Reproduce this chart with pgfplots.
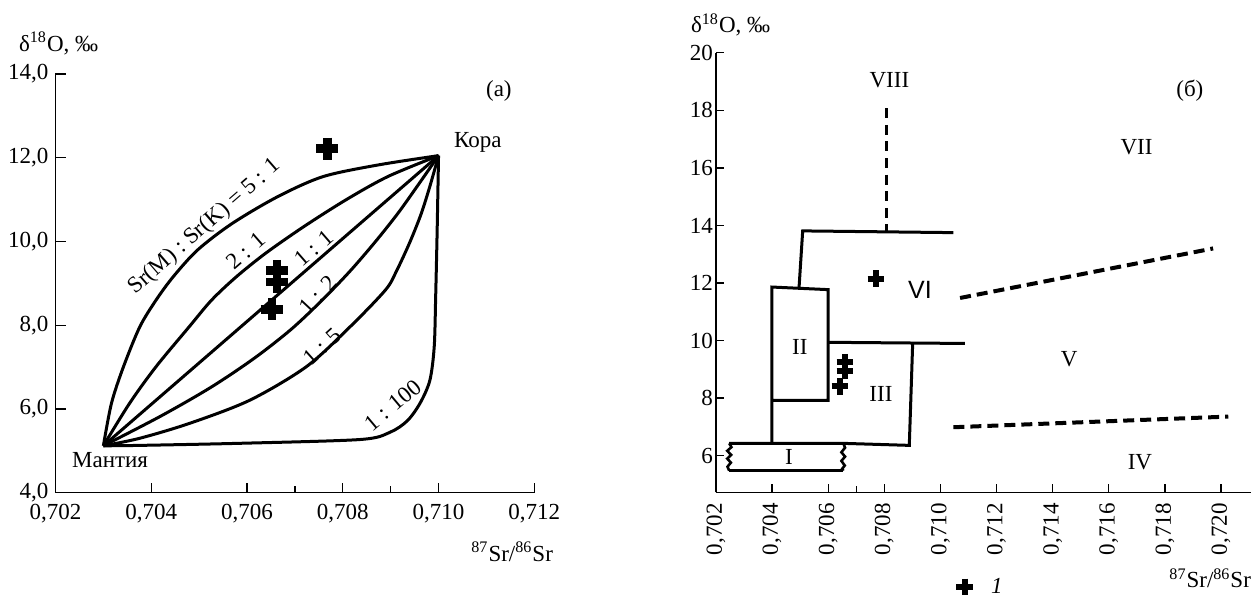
\documentclass[border=0pt]{standalone}
\usepackage{pgfplots}
\pgfplotsset{compat=1.18}
\usepackage{fontspec}
\setmainfont{Liberation Serif}
\newfontfamily\sansf{Liberation Sans}

\begin{document}
\begin{tikzpicture}[font=\fontsize{11.5}{13}\selectfont]
\path[use as bounding box] (0,0) rectangle (629.5pt,300pt);

\pgfplotsset{
  mixing/.style={black, line width=1.5pt, smooth, no markers},
  field/.style={black, line width=1.5pt, no markers},
  bound/.style={black, line width=2pt, no markers, dash pattern=on 5.5pt off 3pt},
}

% (a) mixing curves mantle - crust
\begin{axis}[
  at={(27.75pt,53.65pt)}, anchor=south west,
  scale only axis, width=239.4pt, height=209.35pt,
  xmin=0.702, xmax=0.712, ymin=4, ymax=14,
  axis lines=left, axis line style={-, line width=0.7pt},
  tick align=inside, major tick length=5pt, minor tick length=3.5pt,
  tick style={black, line width=0.7pt},
  scaled x ticks=false,
  xtick={0.702,0.704,0.706,0.708,0.710,0.712},
  xticklabels={{0,702},{0,704},{0,706},{0,708},{0,710},{0,712}},
  minor xtick={0.707,0.709},
  ytick={4,6,8,10,12,14},
  yticklabels={{4,0},{6,0},{8,0},{10,0},{12,0},{14,0}},
  xticklabel style={yshift=-2pt},
  clip=false,
]
  % Sr(M):Sr(K) = 5:1
  \addplot[mixing] coordinates {(0.70300,5.12) (0.70317,6.14) (0.70342,7.01)
    (0.70376,7.96) (0.70410,8.60) (0.70446,9.16) (0.70497,9.80) (0.70569,10.43)
    (0.70664,11.07) (0.70759,11.55) (0.70875,11.83) (0.71000,12.05)};
  % 2:1
  \addplot[mixing] coordinates {(0.70300,5.12) (0.70355,6.14) (0.70410,7.01)
    (0.70479,7.96) (0.70526,8.60) (0.70578,9.16) (0.70639,9.72) (0.70718,10.35)
    (0.70806,10.99) (0.70894,11.55) (0.71000,12.05)};
  % 1:1
  \addplot[field] coordinates {(0.70300,5.12) (0.71000,12.05)};
  % 1:2
  \addplot[mixing] coordinates {(0.70300,5.12) (0.70420,5.83) (0.70525,6.52)
    (0.70615,7.21) (0.70692,7.90) (0.70757,8.60) (0.70815,9.29) (0.70867,9.98)
    (0.70915,10.67) (0.70958,11.36) (0.71000,12.05)};
  % 1:5
  \addplot[mixing] coordinates {(0.70300,5.12) (0.70376,5.30) (0.70481,5.66)
    (0.70606,6.21) (0.70724,7.01) (0.70815,7.96) (0.70889,8.84) (0.70912,9.29)
    (0.70940,9.98) (0.70964,10.67) (0.70983,11.36) (0.71000,12.05)};
  % 1:100
  \addplot[mixing] coordinates {(0.70300,5.12) (0.70376,5.13) (0.70586,5.18)
    (0.70836,5.27) (0.70898,5.44) (0.70935,5.72) (0.70962,6.15) (0.70982,6.69)
    (0.70991,7.49) (0.70994,8.68) (0.70997,10.20) (0.71000,12.05)};
  % samples
  \addplot[only marks, mark=+, mark size=5.5pt, mark options={line width=4.3pt}]
    coordinates {(0.70768,12.22) (0.70663,9.30) (0.70663,9.03) (0.70652,8.38)};

  \node[rotate=41] at (axis cs:0.70512,10.35) {Sr(M) : Sr(K) = 5 : 1};
  \node[rotate=41] at (axis cs:0.70598,9.78) {2 : 1};
  \node[rotate=41] at (axis cs:0.70740,9.84) {1 : 1};
  \node[rotate=47] at (axis cs:0.70748,8.72) {1 : 2};
  \node[rotate=42] at (axis cs:0.70758,7.49) {1 : 5};
  \node[rotate=40] at (axis cs:0.70905,6.09) {1 : 100};
  \node[anchor=west] at (axis cs:0.71018,12.36) {Кора};
  \node at (axis cs:0.70314,4.78) {Мантия};
  \node at (axis cs:0.71126,13.60) {(а)};
\end{axis}
\node[anchor=west] at (6pt,278.35pt) {δ\textsuperscript{18}O, ‰};
\node[anchor=east] at (280pt,24.15pt) {\textsuperscript{87}Sr/\textsuperscript{86}Sr};

% (b) fields
\begin{axis}[
  at={(358pt,53.85pt)}, anchor=south west,
  scale only axis, width=267.5pt, height=219.8pt,
  xmin=0.702, xmax=0.72107, ymin=4.73, ymax=20,
  axis lines=left, axis line style={-, line width=0.7pt},
  tick align=inside, major tick length=4pt, minor tick length=3pt,
  tick style={black, line width=0.7pt},
  scaled x ticks=false,
  xtick={0.702,0.704,0.706,0.708,0.710,0.712,0.714,0.716,0.718,0.720},
  xticklabels={{0,702},{0,704},{0,706},{0,708},{0,710},{0,712},{0,714},{0,716},{0,718},{0,720}},
  minor xtick={0.707},
  xticklabel style={rotate=90, anchor=east, xshift=-2pt},
  ytick={6,8,10,12,14,16,18,20},
  yticklabels={6,8,10,12,14,16,18,20},
  yticklabel style={xshift=2pt},
  clip=false,
  legend style={at={(0.4486,-0.2154)}, anchor=west, draw=none, fill=none,
    inner sep=0pt, font=\fontsize{11.5}{13}\selectfont},
]
  \addplot[only marks, mark=+, mark size=4.2pt, mark options={line width=3pt}]
    coordinates {(0.70770,12.15) (0.70660,9.25) (0.70660,8.96) (0.70642,8.41)};
  \addlegendentry{\hspace{7pt}\textit{1}}

  % I
  \addplot[field] coordinates {(0.70247,6.43) (0.70654,6.43) (0.70889,6.36) (0.70901,9.89)};
  \addplot[field] coordinates {(0.70247,5.48) (0.70654,5.48)};
  \addplot[field, line width=1.3pt] coordinates {(0.70247,6.43) (0.70255,6.30) (0.70240,6.17)
    (0.70254,6.03) (0.70240,5.90) (0.70253,5.76) (0.70241,5.62) (0.70247,5.48)};
  \addplot[field, line width=1.3pt] coordinates {(0.70654,6.43) (0.70660,6.28) (0.70647,6.12)
    (0.70660,5.97) (0.70647,5.82) (0.70659,5.66) (0.70650,5.55) (0.70654,5.48)};
  % II
  \addplot[field] coordinates {(0.70399,6.43) (0.70399,11.86) (0.70600,11.77)
    (0.70600,7.92) (0.70399,7.92)};
  % III top
  \addplot[field] coordinates {(0.70603,9.94) (0.71087,9.90)};
  % VI
  \addplot[field] coordinates {(0.70496,11.84) (0.70509,13.81) (0.71046,13.75)};
  % dashed boundaries
  \addplot[bound, line width=1.7pt, dash pattern=on 5pt off 3.3pt]
    coordinates {(0.70808,18.07) (0.70808,13.79)};
  \addplot[bound] coordinates {(0.71070,11.48) (0.71972,13.20)};
  \addplot[bound] coordinates {(0.71046,6.99) (0.72026,7.36)};

  \node at (axis cs:0.70818,19.03) {VIII};
  \node at (axis cs:0.71889,18.68) {(б)};
  \node at (axis cs:0.71699,16.73) {VII};
  \node at (axis cs:0.70927,11.75) {\sansf\fontsize{12.5}{14}\selectfont VI};
  \node at (axis cs:0.71459,9.37) {V};
  \node at (axis cs:0.70499,9.77) {II};
  \node at (axis cs:0.70788,8.15) {III};
  \node at (axis cs:0.70460,5.95) {I};
  \node at (axis cs:0.71711,5.77) {IV};
\end{axis}
\node[anchor=west] at (342pt,287.5pt) {δ\textsuperscript{18}O, ‰};
\node[anchor=east] at (629pt,10.85pt) {\textsuperscript{87}Sr/\textsuperscript{86}Sr};
\end{tikzpicture}
\end{document}
